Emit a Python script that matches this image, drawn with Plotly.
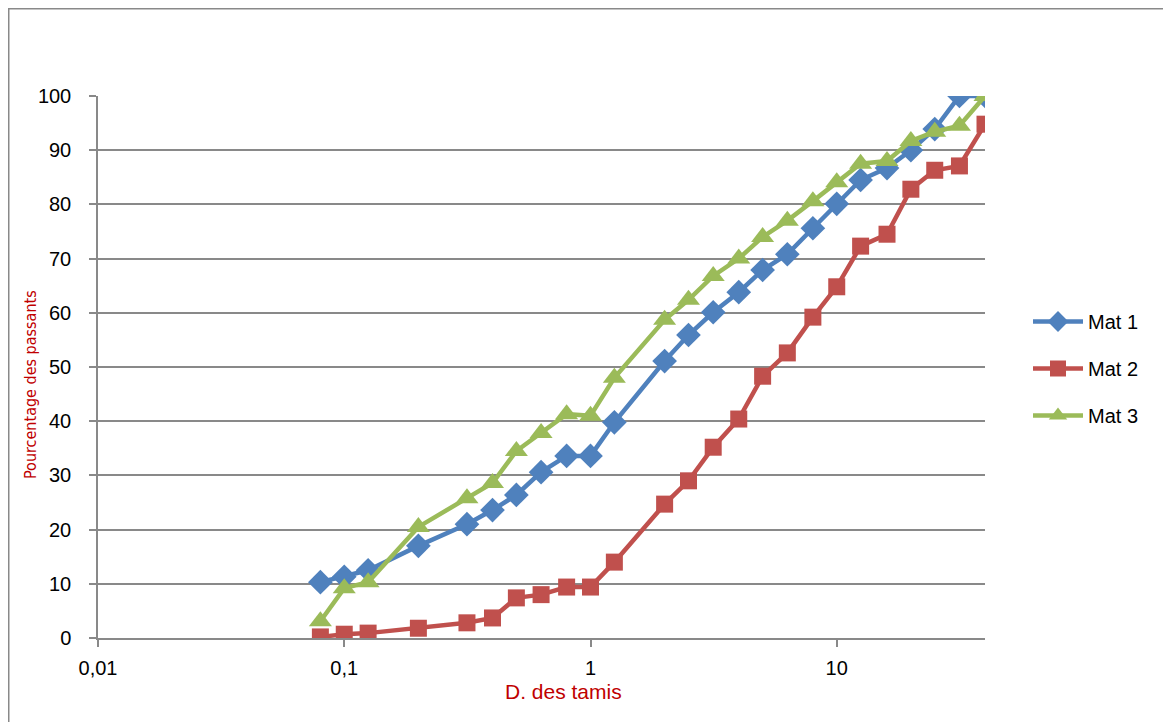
import plotly.graph_objects as go

sieves = [0.08, 0.1, 0.125, 0.2, 0.315, 0.4, 0.5, 0.63, 0.8, 1, 1.25, 2, 2.5, 3.15,
          4, 5, 6.3, 8, 10, 12.5, 16, 20, 25, 31.5, 40]
mat1 = [10.3, 11.3, 12.5, 17.0, 21.0, 23.6, 26.4, 30.6, 33.6, 33.6, 39.8, 51.1, 55.9, 60.1,
        63.8, 67.9, 70.8, 75.6, 80.1, 84.5, 86.7, 90.0, 93.9, 100, 100]
mat2 = [0.2, 0.7, 0.9, 1.8, 2.8, 3.7, 7.4, 8.0, 9.4, 9.4, 14.0, 24.7, 29.0, 35.2,
        40.4, 48.3, 52.6, 59.2, 64.8, 72.3, 74.5, 82.8, 86.3, 87.1, 94.8]
mat3 = [3.1, 9.2, 10.3, 20.5, 25.8, 28.6, 34.5, 37.8, 41.3, 41.0, 48.0, 58.7, 62.4, 66.8,
        70.0, 74.0, 77.0, 80.6, 84.1, 87.5, 88.0, 91.7, 93.4, 94.5, 100]

series_names = ["Mat 1", "Mat 2", "Mat 3"]
colors = ["#4F81BD", "#C0504D", "#9BBB59"]
symbols = ["diamond", "square", "triangle-up"]
msizes = [19, 17, 20]

x_tickvals = [0.01, 0.1, 1, 10]
x_ticktext = ["0,01", "0,1", "1", "10"]

W, H = 1163, 714
L, R, T, B = 90, 186, 88, 84
PW, PH = W - L - R, H - T - B

fig = go.Figure()
for i, (name, ys) in enumerate(zip(series_names, [mat1, mat2, mat3])):
    fig.add_trace(go.Scatter(
        x=sieves, y=ys, name=name, mode="lines+markers",
        line=dict(color=colors[i], width=4.5),
        marker=dict(symbol=symbols[i], size=msizes[i], color=colors[i]),
        legendgroup=name,
    ))

font_main = "Liberation Sans"
fig.update_layout(
    width=W, height=H, autosize=False,
    margin=dict(l=L, r=R, t=T, b=B),
    paper_bgcolor="white", plot_bgcolor="white",
    showlegend=True,
    legend=dict(x=(1020 - L) / PW, y=(H - B - 294) / PH, xanchor="left", yanchor="top",
                font=dict(family=font_main, size=20, color="black"),
                tracegroupgap=18, itemwidth=50, bgcolor="rgba(0,0,0,0)"),
    xaxis=dict(type="log", range=[-2, 1.60206], tickvals=x_tickvals, ticktext=x_ticktext,
               showgrid=False, zeroline=False, showline=True, linecolor="#898989", linewidth=1.5,
               ticks="outside", ticklen=7, tickcolor="#898989", tickwidth=1.5,
               ticklabelstandoff=4,
               tickfont=dict(family=font_main, size=20, color="black")),
    yaxis=dict(range=[0, 100], dtick=10, showgrid=True, gridcolor="#898989", gridwidth=1.5,
               zeroline=False, showline=True, linecolor="#898989", linewidth=1.5,
               ticks="outside", ticklen=7, tickcolor="#898989", tickwidth=1.5,
               ticklabelstandoff=14,
               tickfont=dict(family=font_main, size=20, color="black")),
    annotations=[
        dict(text="Pourcentage des passants", xref="paper", yref="paper",
             x=(22 - L) / PW, y=(H - B - 377) / PH, xanchor="center", yanchor="middle", textangle=-90,
             showarrow=False,
             font=dict(family="DejaVu Sans Condensed, Liberation Sans Narrow, Roboto Condensed, Roboto",
                       size=16, color="#C00000")),
        dict(text="D. des tamis", xref="paper", yref="paper",
             x=(555 - L) / PW, y=(H - B - 683) / PH, xanchor="center", yanchor="middle",
             showarrow=False, font=dict(family=font_main, size=21, color="#C00000")),
    ],
    shapes=[dict(type="rect", xref="paper", yref="paper",
                 x0=(0.75 - L) / PW, x1=(W + 20 - L) / PW,
                 y0=-(B + 20) / PH, y1=(H - B - 0.75) / PH,
                 line=dict(color="#898989", width=1.5), fillcolor="rgba(0,0,0,0)", layer="below")],
)

fig.write_html("out.html")
